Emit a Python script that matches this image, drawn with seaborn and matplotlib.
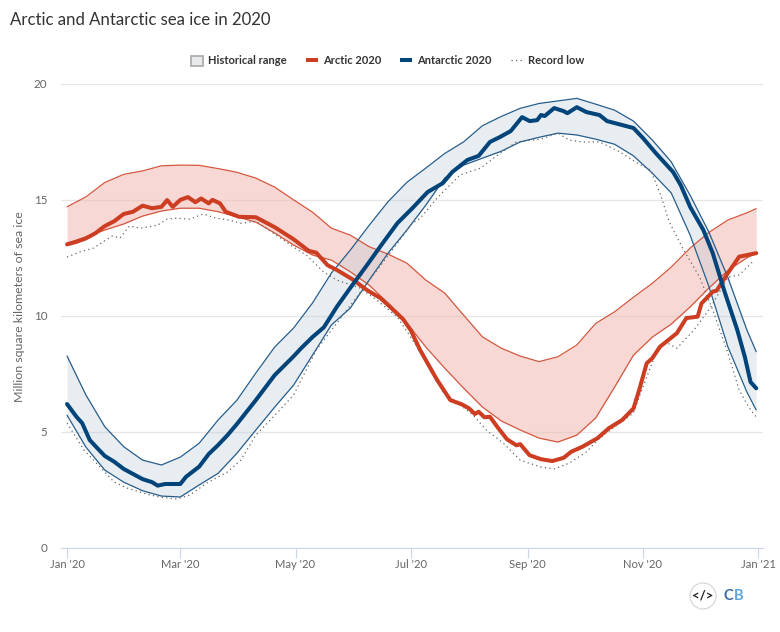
import matplotlib
matplotlib.use("Agg")
import matplotlib.pyplot as plt
from matplotlib.lines import Line2D
from matplotlib.patches import Patch, Circle
from matplotlib.transforms import IdentityTransform
import pandas as pd
import seaborn as sns

# days since 1 Jan 2020, shared by the historical range edges
range_days = list(range(0, 361, 10)) + [365]

arctic_upper = [14.7, 15.13, 15.75, 16.1, 16.25, 16.47, 16.5, 16.49, 16.35, 16.19,
                15.94, 15.55, 15.0, 14.47, 13.78, 13.48, 12.98, 12.66, 12.27, 11.54,
                10.98, 10.03, 9.09, 8.6, 8.26, 8.02, 8.23, 8.74, 9.67, 10.17,
                10.8, 11.4, 12.1, 12.92, 13.6, 14.13, 14.44, 14.62]
arctic_lower = [13.13, 13.4, 13.7, 13.96, 14.3, 14.52, 14.64, 14.64, 14.49, 14.27,
                14.04, 13.57, 13.05, 12.62, 12.4, 11.9, 11.32, 10.55, 9.68, 8.65,
                7.74, 6.88, 6.06, 5.46, 5.07, 4.72, 4.55, 4.85, 5.59, 6.92,
                8.3, 9.08, 9.64, 10.38, 11.2, 11.95, 12.5, 12.7]
antarctic_upper = [8.26, 6.58, 5.21, 4.35, 3.77, 3.56, 3.9, 4.5, 5.5, 6.36,
                   7.53, 8.65, 9.47, 10.55, 11.84, 12.83, 13.9, 14.92, 15.76, 16.37,
                   17.0, 17.5, 18.2, 18.6, 18.95, 19.16, 19.27, 19.38, 19.13, 18.87,
                   18.4, 17.58, 16.64, 15.2, 13.6, 11.65, 9.4, 8.45]
antarctic_lower = [5.71, 4.33, 3.34, 2.82, 2.45, 2.22, 2.18, 2.7, 3.2, 4.07,
                   5.07, 6.06, 7.01, 8.3, 9.6, 10.33, 11.54, 12.7, 13.7, 14.77,
                   15.94, 16.5, 16.8, 17.1, 17.5, 17.7, 17.88, 17.8, 17.62, 17.4,
                   16.9, 16.15, 15.3, 13.48, 11.25, 8.66, 6.72, 5.93]

arctic_days = [0, 5, 10, 15, 20, 25, 30, 35, 40, 45, 50, 53, 56, 60, 64, 68, 71, 75, 77, 81, 84, 91,
               100, 110, 120, 128, 132, 138, 143, 151, 159, 166, 171, 178, 182, 187, 192, 196,
               203, 209, 213, 216, 218, 221, 224, 228, 233, 238, 240, 245, 251, 257, 263, 267,
               273, 281, 287, 294, 300, 303, 307, 310, 314, 323, 328, 334, 336, 342, 344, 350, 356, 365]
arctic_2020 = [13.08, 13.19, 13.34, 13.56, 13.87, 14.08, 14.39, 14.49, 14.75, 14.64, 14.7, 14.99, 14.7, 15.0,
               15.12, 14.9, 15.06, 14.85, 15.0, 14.85, 14.49, 14.27,
               14.25, 13.82, 13.3, 12.8, 12.72, 12.18, 11.97, 11.58, 11.1, 10.76, 10.39, 9.85, 9.38, 8.52, 7.8, 7.23,
               6.36, 6.18, 6.0, 5.76, 5.86, 5.62, 5.64, 5.19, 4.67, 4.41, 4.46, 3.98, 3.81, 3.73, 3.87, 4.13,
               4.35, 4.72, 5.15, 5.5, 6.0, 6.79, 7.95, 8.17, 8.66, 9.25, 9.9, 9.96, 10.53, 11.04, 11.08, 11.84, 12.55, 12.7]

antarctic_days = [0, 5, 8, 12, 16, 20, 25, 30, 35, 40, 45, 48, 52, 60, 63, 70, 75, 80, 85, 90,
                  100, 110, 120, 124, 130, 136, 143, 150, 159, 166, 175, 183, 191, 199, 204, 212,
                  218, 224, 229, 235, 241, 245, 249, 251, 253, 258, 263, 265, 270, 275, 282,
                  286, 294, 300, 305, 312, 321, 325, 330, 337, 342, 348, 355, 359, 362, 365]
antarctic_2020 = [6.19, 5.64, 5.37, 4.64, 4.29, 3.95, 3.7, 3.39, 3.17, 2.95, 2.82, 2.67, 2.74, 2.74, 3.05,
                  3.49, 4.03, 4.42, 4.85, 5.33,
                  6.36, 7.44, 8.25, 8.6, 9.08, 9.5, 10.4, 11.2, 12.2, 13.0, 14.0, 14.65, 15.34, 15.72, 16.2, 16.72,
                  16.9, 17.5, 17.7, 17.97, 18.57, 18.4, 18.44, 18.66, 18.62, 18.96, 18.83, 18.74, 19.0, 18.79, 18.66,
                  18.4, 18.23, 18.1, 17.67, 17.0, 16.2, 15.64, 14.7, 13.7, 12.7, 11.1, 9.38, 8.22, 7.14, 6.87]

arctic_low_days = [0, 7, 14, 19, 24, 28, 33, 39, 48, 53, 58, 65, 72, 79, 86, 92, 100, 113, 120, 127, 136, 143,
                   155, 164, 175, 183, 191, 199, 207, 215, 222, 231, 240, 251, 258, 266, 275, 281, 289, 300,
                   303, 313, 318, 323, 332, 341, 350, 356, 364]
arctic_low = [12.53, 12.76, 12.92, 13.19, 13.44, 13.35, 13.87, 13.78, 13.91, 14.17, 14.21, 14.17, 14.39, 14.21,
              14.13, 13.99, 14.08, 13.35, 12.96, 12.6, 11.88, 11.54,
              11.2, 10.68, 9.94, 8.95, 7.96, 6.71, 6.23, 5.72, 5.07, 4.51, 3.77, 3.47, 3.39, 3.64, 4.12, 4.64, 5.15, 5.8,
              6.49, 8.65, 8.82, 8.6, 9.38, 10.38, 11.67, 11.76, 12.4]

antarctic_low_days = [0, 9, 18, 25, 32, 42, 49, 58, 65, 74, 85, 92, 100, 110, 120, 132, 151, 167, 183, 187, 196,
                      208, 219, 228, 238, 251, 260, 266, 273, 282, 293, 302, 309, 314, 319, 326, 335, 342, 350,
                      356, 361, 365]
antarctic_low = [5.37, 4.2, 3.43, 2.82, 2.56, 2.31, 2.18, 2.09, 2.26, 2.78, 3.26, 3.77, 4.85, 5.7, 6.58, 8.52,
                 10.55, 12.27, 14.0, 14.2, 15.08, 16.07, 16.37, 16.93, 17.5, 17.62, 17.88, 17.58, 17.5, 17.5,
                 17.06, 16.59, 16.29, 15.3, 14.04, 12.92, 11.67, 10.25, 8.39, 6.79, 6.06, 5.63]

tick_dates = ["2020-01-01", "2020-03-01", "2020-05-01", "2020-07-01", "2020-09-01", "2020-11-01", "2021-01-01"]
tick_labels = ["Jan '20", "Mar '20", "May '20", "Jul '20", "Sep '20", "Nov '20", "Jan '21"]
y_ticks = [0, 5, 10, 15, 20]

RED = "#cc3d22"
BLUE = "#00447a"
GREY_TEXT = "#666666"


def to_dates(days):
    return pd.Timestamp("2020-01-01") + pd.to_timedelta(days, unit="D")


sns.set_theme(style="white")
plt.rcParams["font.family"] = ["Lato", "DejaVu Sans"]

fig = plt.figure(figsize=(7.8, 6.32), dpi=100)
W, H = 780, 632
ax = fig.add_axes([61 / W, 1 - 547.5 / H, (763 - 61) / W, (547.5 - 84) / H])

x_range = to_dates(range_days)
ax.fill_between(x_range, arctic_lower, arctic_upper, color="#f1b3aa", alpha=0.5, lw=0, zorder=2)
ax.fill_between(x_range, antarctic_lower, antarctic_upper, color="#b9c9d8", alpha=0.32, lw=0, zorder=2.1)

thin = pd.DataFrame({"date": x_range, "au": arctic_upper, "al": arctic_lower,
                     "su": antarctic_upper, "sl": antarctic_lower})
for col, colour in [("au", "#d4573f"), ("al", "#d4573f"), ("su", "#265d8c"), ("sl", "#265d8c")]:
    sns.lineplot(data=thin, x="date", y=col, color=colour, lw=0.9, ax=ax, zorder=3, errorbar=None)

for days, vals in [(arctic_low_days, arctic_low), (antarctic_low_days, antarctic_low)]:
    sns.lineplot(x=to_dates(days), y=vals, color="#666666", lw=0.9, ls=(0, (1, 2.6)), ax=ax, zorder=3.5, errorbar=None)

sns.lineplot(x=to_dates(arctic_days), y=arctic_2020, color=RED, lw=2.9, ax=ax, zorder=4, errorbar=None)
sns.lineplot(x=to_dates(antarctic_days), y=antarctic_2020, color=BLUE, lw=2.9, ax=ax, zorder=5, errorbar=None)

ax.set_xlim(to_dates(-3.2), to_dates(368.6))
ax.set_ylim(0, 20)
ax.set_yticks(y_ticks)
ax.set_xticks(pd.to_datetime(tick_dates))
ax.set_xticklabels(tick_labels)
ax.grid(axis="y", color="#e6e6e6", lw=1)
ax.set_axisbelow(True)
sns.despine(ax=ax, left=True, right=True, top=True)
ax.spines["bottom"].set_color("#ccd6eb")
ax.spines["bottom"].set_linewidth(0.8)
ax.tick_params(axis="x", length=7, width=0.8, color="#ccd6eb", labelsize=8.1, labelcolor=GREY_TEXT, pad=1, bottom=True)
ax.tick_params(axis="y", length=0, labelsize=8.4, labelcolor=GREY_TEXT, pad=10)
ax.set_xlabel("")
ax.set_ylabel("Million square kilometers of sea ice", fontsize=8.9, color=GREY_TEXT)
ax.yaxis.set_label_coords((25 - 61) / 702, (547.5 - 307) / 463.5)

fig.text(10 / W, 1 - 20 / H, "Arctic and Antarctic sea ice in 2020", fontsize=12.1, color="#333333", va="center")

handles = [
    Patch(facecolor="#e8eaec", edgecolor="#a8a8a8", lw=1.2),
    Line2D([], [], color=RED, lw=2.9, solid_capstyle="butt"),
    Line2D([], [], color=BLUE, lw=2.9, solid_capstyle="butt"),
    Line2D([], [], color="#666666", lw=0.9, ls=(0, (1, 2.6))),
]
fig.legend(handles, ["Historical range", "Arctic 2020", "Antarctic 2020", "Record low"],
           loc="center", bbox_to_anchor=(387.5 / W, 1 - 61 / H), ncol=4, frameon=False,
           prop={"size": 8.0, "weight": "bold"}, labelcolor="#333333",
           handlelength=1.1, handleheight=1.0, handletextpad=0.45, columnspacing=1.7)

# embed button and logo, bottom right
fig.add_artist(Circle((703, H - 596), 13, transform=IdentityTransform(), fc="white", ec="#d8d8d8", lw=0.9))
fig.text(703 / W, 1 - 596 / H, "</>", ha="center", va="center", fontsize=9.5, weight="bold", color="#222222")
fig.text(728.5 / W, 1 - 596 / H, "C", ha="center", va="center", fontsize=10.5, weight="bold", color="#3f6c9f")
fig.text(738.5 / W, 1 - 596 / H, "B", ha="center", va="center", fontsize=10.5, weight="bold", color="#62a6dc")

fig.savefig("out.png", dpi=100)
